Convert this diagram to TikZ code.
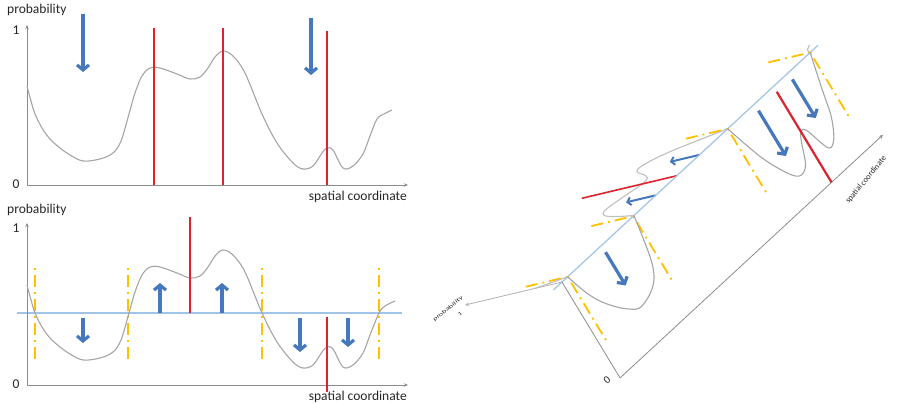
\documentclass[tikz,border=0pt]{standalone}
\usepackage{fontspec}
\setmainfont{Carlito}
\usetikzlibrary{arrows.meta}
\definecolor{cgray}{RGB}{165,165,165}
\definecolor{cgrayup}{RGB}{195,190,190}
\definecolor{axgray}{RGB}{140,140,140}
\definecolor{cred}{RGB}{222,35,45}
\definecolor{cblue}{RGB}{70,120,190}
\definecolor{cyel}{RGB}{255,192,0}
\definecolor{clblue}{RGB}{160,195,230}
\tikzset{
  curve/.style={draw=cgray, line width=1.1pt},
  curveup/.style={draw=cgrayup, line width=1.1pt},
  axis/.style={draw=axgray, line width=0.8pt},
  axisarrow/.style={axis, -{Stealth[length=4pt,width=3.5pt]}},
  redline/.style={draw=cred, line width=2.2pt},
  thresh/.style={draw=clblue, line width=1.2pt},
  yeldash/.style={draw=cyel, line width=1.8pt, dash pattern=on 2pt off 5pt on 12pt off 5pt},
  bluearrow/.style={draw=cblue, line width=3.2pt, -{Straight Barb[length=5pt,width=12pt]}},
  bluearrowthin/.style={draw=cblue, line width=2pt, -{Straight Barb[length=3.5pt,width=8pt]}},
  lbl/.style={inner sep=0pt, font=\fontsize{13.5}{16}\selectfont, text=black!85},
}
\begin{document}
\begin{tikzpicture}[x=1pt, y=-1pt]
\useasboundingbox (0,0) rectangle (900,404);

% ================= top plot =================
\draw[axisarrow] (27,185) -- (27,25);
\draw[axisarrow] (27,185) -- (408,185);
\node[lbl, anchor=west] (tprob) at (7,10) {probability};
\node[lbl] (tone) at (16,30) {1};
\node[lbl] (tzero) at (16,184) {0};
\node[lbl, anchor=east] (tspat) at (407,197) {spatial coordinate};
\begin{scope}[shift={(0,-199)}]
\draw[curve] plot[smooth, tension=0.55] coordinates {(27,285) (31,300) (35,313) (42,327) (50,338) (60,347) (70,354) (83,360) (100,358) (113,352) (121,340) (129,313) (135,292) (142,275) (150,267) (160,267) (177,273) (190,278) (200,276) (208,267) (215,256) (223,250) (233,255) (245,272) (262,313) (277,342) (293,362) (303,368) (313,365) (322,352) (327,347) (333,349) (343,367) (353,365) (363,353) (370,335) (377,318) (384,313) (392,309)};
\end{scope}
\draw[redline] (154,28) -- (154,185);
\draw[redline] (223,28) -- (223,185);
\draw[redline] (327,31) -- (327,185);
\draw[bluearrow] (83,14) -- (83,72);
\draw[bluearrow] (311,18) -- (311,75);

% ================= bottom plot =================
\draw[thresh] (17,313) -- (402,313);
\draw[axisarrow] (27,385) -- (27,223);
\draw[axisarrow] (27,385) -- (408,385);
\node[lbl, anchor=west] (bprob) at (7,210) {probability};
\node[lbl] (bone) at (16,228) {1};
\node[lbl] (bzero) at (16,384) {0};
\node[lbl, anchor=east] (bspat) at (407,397) {spatial coordinate};
\foreach \xx in {35,128,262,379} \draw[yeldash] (\xx,268) -- (\xx,362);
\draw[curve] plot[smooth, tension=0.55] coordinates {(27,285) (31,300) (35,313) (42,327) (50,338) (60,347) (70,354) (83,360) (100,358) (113,352) (121,340) (129,313) (135,292) (142,275) (150,267) (160,267) (177,273) (190,278) (200,276) (208,267) (215,256) (223,250) (233,255) (245,272) (262,313) (277,342) (293,362) (303,368) (313,365) (322,352) (327,347) (333,349) (343,367) (353,365) (363,353) (370,335) (379,313) (385,306) (395,301)};
\draw[redline] (190,217) -- (190,313);
\draw[redline] (327,317) -- (327,392);
\draw[bluearrow] (83,318) -- (83,343);
\draw[bluearrow] (160,313) -- (160,283);
\draw[bluearrow] (222,313) -- (222,283);
\draw[bluearrow] (300,318) -- (300,352);
\draw[bluearrow] (348,318) -- (348,347);

% ================= folded view: upper (above threshold) part =================
\begin{scope}[x={(0.705pt,0.652pt)}, y={(0.99pt,0.235pt)}, shift={(233.1pt,-373.16pt)}]
\draw[axis, draw=axgray!70, -{Stealth[length=4pt,width=3.5pt]}] (27,313) -- (27,215);
\foreach \xx in {35,128,262,379} \draw[yeldash] (\xx,313) -- (\xx,268);
\draw[curveup] plot[smooth, tension=0.55] coordinates {(27,285) (31,300) (35,313)};
\draw[curveup] plot[smooth, tension=0.55] coordinates {(129,313) (135,292) (142,275) (150,267) (160,267) (177,273) (190,278) (200,276) (208,267) (215,256) (223,250) (233,255) (245,272) (262,313)};
\draw[curveup] plot[smooth, tension=0.55] coordinates {(379,313) (385,306) (395,301)};
\draw[redline, line width=1.6pt] (190,217) -- (190,313);
\draw[bluearrowthin] (160,313) -- (160,283);
\draw[bluearrowthin] (222,313) -- (222,283);
\end{scope}

% ================= folded view: lower (below threshold) part =================
\begin{scope}[x={(0.705pt,0.652pt)}, y={(0.806pt,-1.333pt)}, shift={(290.685pt,117.63pt)}]
\draw[thresh] (15,313) -- (390,313);
\draw[axis] (27,385) -- (27,313);
\draw[axisarrow] (27,385) -- (400,385);
\foreach \xx in {35,128,262,379} \draw[yeldash] (\xx,313) -- (\xx,362);
\draw[curve] plot[smooth, tension=0.55] coordinates {(35,313) (42,327) (50,338) (60,347) (70,354) (83,360) (100,358) (113,352) (121,340) (129,313)};
\draw[curve] plot[smooth, tension=0.55] coordinates {(262,313) (277,342) (293,362) (303,368) (313,365) (322,352) (327,347) (333,349) (343,367) (353,365) (363,353) (370,335) (379,313)};
\draw[redline] (327,317) -- (327,385);
\draw[bluearrow] (83,318) -- (83,343);
\draw[bluearrow] (300,318) -- (300,352);
\draw[bluearrow] (348,318) -- (348,347);
\end{scope}

% labels of the folded view
\node[lbl, rotate=50, scale=0.6] (fspat) at (866,180) {spatial coordinate};
\node[lbl, rotate=40, scale=0.8] (fzero) at (607,380) {0};
\node[lbl, rotate=39, xscale=0.62, yscale=0.4] (fprob) at (448,309) {probability};
\node[lbl, rotate=39, xscale=0.55, yscale=0.4] (fone) at (460,314) {1};
\end{tikzpicture}
\end{document}
